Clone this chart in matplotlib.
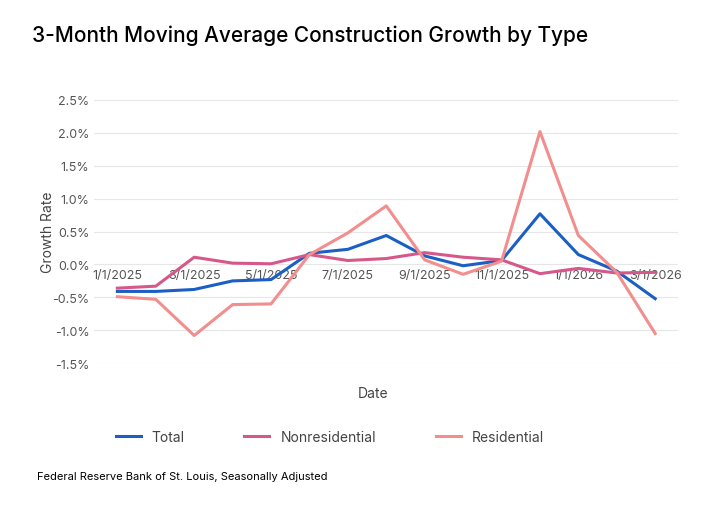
import matplotlib.pyplot as plt
import matplotlib.ticker as mticker

dates = ["1/1/2025", "2/1/2025", "3/1/2025", "4/1/2025", "5/1/2025", "6/1/2025", "7/1/2025",
         "8/1/2025", "9/1/2025", "10/1/2025", "11/1/2025", "12/1/2025", "1/1/2026", "2/1/2026", "3/1/2026"]
total = [-0.41, -0.41, -0.38, -0.25, -0.23, 0.17, 0.23, 0.44, 0.13, -0.02, 0.06, 0.77, 0.15, -0.10, -0.52]
nonres = [-0.36, -0.33, 0.11, 0.02, 0.01, 0.15, 0.06, 0.09, 0.18, 0.11, 0.07, -0.14, -0.06, -0.13, -0.12]
res = [-0.49, -0.53, -1.08, -0.61, -0.60, 0.15, 0.48, 0.89, 0.07, -0.15, 0.05, 2.02, 0.44, -0.12, -1.05]

plt.rcParams['font.family'] = ['Inter', 'DejaVu Sans']
fig = plt.figure(figsize=(7.2, 5.1), dpi=100)
ax = fig.add_axes([0.131, 0.286, 0.811, 0.516])
x = list(range(len(dates)))
ax.plot(x, total, color="#1c5fc4", lw=2.2, label="Total")
ax.plot(x, nonres, color="#d6588a", lw=2.2, label="Nonresidential")
ax.plot(x, res, color="#f28e8e", lw=2.2, label="Residential")

ax.set_ylim(-1.5, 2.5)
ax.set_yticks([-1.5, -1.0, -0.5, 0, 0.5, 1.0, 1.5, 2.0, 2.5])
ax.yaxis.set_major_formatter(mticker.FuncFormatter(lambda v, p: f"{v:.1f}%"))
ax.set_xlim(-0.6, 14.6)
ax.set_xticks(x[::2])
ax.set_xticklabels(dates[::2])
ax.spines['bottom'].set_position(('data', 0))
for s in ['top', 'right', 'left', 'bottom']:
    ax.spines[s].set_visible(False)
ax.tick_params(length=0, labelsize=9, colors="#555555")
ax.tick_params(axis='x', pad=3)
ax.grid(axis='y', color="#e6e6e6", lw=0.8)
ax.set_axisbelow(True)
ax.set_ylabel("Growth Rate", fontsize=10, color="#444444", labelpad=-2)

fig.text(0.518, 0.22, "Date", fontsize=10, color="#444444", ha='center')
fig.legend(loc='center', bbox_to_anchor=(0.458, 0.141), ncol=3, frameon=False,
           fontsize=10, handlelength=1.8, columnspacing=4.3, labelcolor="#444444")
fig.text(0.045, 0.918, "3-Month Moving Average Construction Growth by Type", fontsize=15, fontweight='medium')
fig.text(0.052, 0.058, "Federal Reserve Bank of St. Louis, Seasonally Adjusted", fontsize=8)
fig.savefig("out.png", dpi=100)
